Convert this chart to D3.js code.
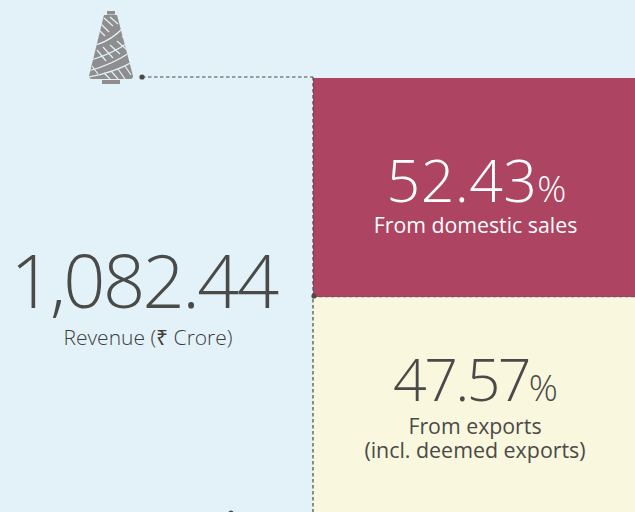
<!DOCTYPE html>
<html><head><meta charset="utf-8">
<script src="https://cdnjs.cloudflare.com/ajax/libs/d3/7.8.5/d3.min.js"></script>
<style>html,body{margin:0;padding:0;background:#e3f2f8}svg{display:block}text{font-family:"Open Sans",sans-serif}</style>
</head><body><svg id="c" width="635" height="512"></svg>
<script>
const categories = ["From domestic sales", "From exports"];
const shares = [52.43, 47.57];
const shareLabels = ["52.43", "47.57"];
const totalLabel = "1,082.44";
const totalCaption = "Revenue (₹ Crore)";
const colors = ["#ad4461", "#f9f7dd"];

const svg = d3.select("#c");
const W = 635, H = 512;
const bg = "#e3f2f8", ink = "#4a4a49", gray = "#8e8e8e";
svg.append("rect").attr("width", W).attr("height", H).attr("fill", bg);

// share of revenue -> vertical position
const y = d3.scaleLinear().domain([0, shares[0]]).range([78, 297]);
const x0 = 313;
svg.append("rect").attr("x", x0).attr("y", y(0)).attr("width", W - x0).attr("height", y(shares[0]) - y(0)).attr("fill", colors[0]);
svg.append("rect").attr("x", x0).attr("y", y(shares[0])).attr("width", W - x0).attr("height", H - y(shares[0])).attr("fill", colors[1]);

// connector lines
const dash = "3.5 2.5";
svg.append("line").attr("x1", 142).attr("x2", x0).attr("y1", 77).attr("y2", 77).attr("stroke", ink).attr("stroke-width", 1).attr("stroke-dasharray", dash);
svg.append("line").attr("x1", x0).attr("x2", x0).attr("y1", 77).attr("y2", H).attr("stroke", ink).attr("stroke-width", 1.2).attr("stroke-dasharray", dash);
svg.append("line").attr("x1", x0).attr("x2", W).attr("y1", 297).attr("y2", 297).attr("stroke", ink).attr("stroke-width", 1).attr("stroke-dasharray", dash).attr("stroke-opacity", 0.45);
[[142, 77], [314, 296], [231, 513]].forEach(([cx, cy]) => svg.append("circle").attr("cx", cx).attr("cy", cy).attr("r", 2.6).attr("fill", ink));

// yarn cone icon
const defs = svg.append("defs");
defs.append("clipPath").attr("id", "cone").append("path").attr("d", "M104,15 L117,15 L133,76 Q133,79 130,79 L92,79 Q89,79 89,76 Z");
const icon = svg.append("g");
icon.append("rect").attr("x", 107).attr("y", 11).attr("width", 8).attr("height", 3.5).attr("fill", gray);
icon.append("rect").attr("x", 102).attr("y", 80).attr("width", 18).attr("height", 4).attr("fill", gray);
const cone = icon.append("g").attr("clip-path", "url(#cone)");
cone.append("rect").attr("x", 85).attr("y", 12).attr("width", 52).attr("height", 70).attr("fill", gray);
const strokes = [
 "M96,45 Q112,40 124,27", "M91,60 Q112,54 129,42", "M88,71 Q112,65 132,51", "M88,77 Q114,73 136,60",
 "M104,18 L113,26", "M101,24 L109,32", "M99,30 L105,36", "M110,17 L118,24",
 "M97,50 L106,61", "M103,47 L113,58", "M110,45 L120,54", "M117,41 L127,50", "M122,36 L129,44",
 "M92,66 L98,74", "M111,71 L118,79", "M118,69 L125,79", "M125,66 L131,75", "M104,73 L110,79"
];
cone.selectAll("path").data(strokes).join("path").attr("d", d => d).attr("fill", "none").attr("stroke", bg).attr("stroke-width", 1.2);

// text
function label(x, yy, t, size, fill, weight) {
  return svg.append("text").attr("x", x).attr("y", yy).attr("text-anchor", "middle").attr("font-size", size).attr("fill", fill).attr("font-weight", weight).text(t);
}
label(143.5, 308, totalLabel, 74, ink, 300).attr("letter-spacing", -2.6);
label(148, 345, totalCaption, 21, "#3c3c3b", 300);

function pct(cx, base, t, fill, ls) {
  const tx = svg.append("text").attr("x", cx).attr("y", base).attr("text-anchor", "middle").attr("fill", fill).attr("font-weight", 300);
  tx.append("tspan").attr("font-size", 59).attr("letter-spacing", ls).text(t);
  tx.append("tspan").attr("font-size", 36).text("%");
}
pct(476.5, 202, shareLabels[0], "#ffffff", 0.4);
label(475.5, 233, categories[0], 21.3, "#ffffff", 400);
pct(475.5, 401, shareLabels[1], ink, -2.6);
label(475, 434, categories[1], 21.3, ink, 400);
label(475, 458, "(incl. deemed exports)", 21.4, ink, 400);
</script></body></html>
